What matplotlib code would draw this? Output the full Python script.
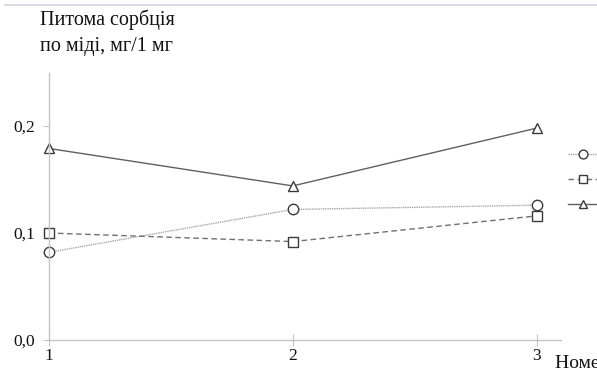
import matplotlib.pyplot as plt
from matplotlib.lines import Line2D

plt.rcParams['font.family'] = ['Liberation Serif', 'DejaVu Serif']

samples = [1, 2, 3]
circle_vals = [0.082, 0.122, 0.126]
square_vals = [0.100, 0.092, 0.116]
triangle_vals = [0.179, 0.144, 0.198]
yticks = [0.0, 0.1, 0.2]
ytick_labels = ['0,0', '0,1', '0,2']

fig = plt.figure(figsize=(5.97, 3.72), dpi=100)
ax = fig.add_axes([49 / 597, 1 - 340 / 372, (561 - 49) / 597, (340 - 72.5) / 372])

mk = dict(markerfacecolor='white', markeredgecolor='#3a3a3a', markersize=7.5,
          markeredgewidth=1.0)
l1, = ax.plot(samples, circle_vals, color='#a8a8a8', lw=1.0, ls=(0, (1, 0.6)),
              marker='o', **mk)
l2, = ax.plot(samples, square_vals, color='#707070', lw=1.0, ls=(0, (4, 2.5)),
              marker='s', **mk)
l3, = ax.plot(samples, triangle_vals, color='#606060', lw=1.0, ls='-',
              marker='^', **mk)
for l in (l1, l2, l3):
    l.set_clip_on(False)

ax.set_xlim(1, 3.1)
ax.set_ylim(0, 0.25)
ax.set_xticks(samples)
ax.set_xticklabels([str(s) for s in samples])
ax.set_yticks(yticks)
ax.set_yticklabels(ytick_labels)

for side in ('top', 'right'):
    ax.spines[side].set_visible(False)
for side in ('left', 'bottom'):
    ax.spines[side].set_color('#c4c4c4')
    ax.spines[side].set_linewidth(1.0)
ax.tick_params(axis='x', direction='inout', length=8, color='#c4c4c4',
               labelsize=12.5, pad=2, labelcolor='#111111')
ax.tick_params(axis='y', direction='out', length=4, color='#c4c4c4',
               labelsize=12.5, pad=6, labelcolor='#111111')
ax.set_facecolor('none')

fig.text(40 / 597, 1 - 33 / 372, 'Питома сорбція\nпо міді, мг/1 мг',
         fontsize=14.5, va='center', ha='left', linespacing=1.5,
         color='#111111')
fig.text(555 / 597, 1 - 364 / 372, 'Номер досліду', fontsize=14,
         va='center', ha='left', color='#111111')

# thin rule across the top of the page
fig.add_artist(Line2D([5 / 597, 1], [1 - 5 / 372, 1 - 5 / 372],
                      transform=fig.transFigure, color='#d2d6e2', lw=1.2))

fig.legend([l1, l2, l3], ['', '', ''], loc='upper left',
           bbox_to_anchor=(561 / 597, 1 - 142 / 372), frameon=False,
           handlelength=2.2, labelspacing=0.85, markerscale=0.85,
           fontsize=10, borderpad=0, handletextpad=0.3)

fig.savefig('out.png', dpi=100)
